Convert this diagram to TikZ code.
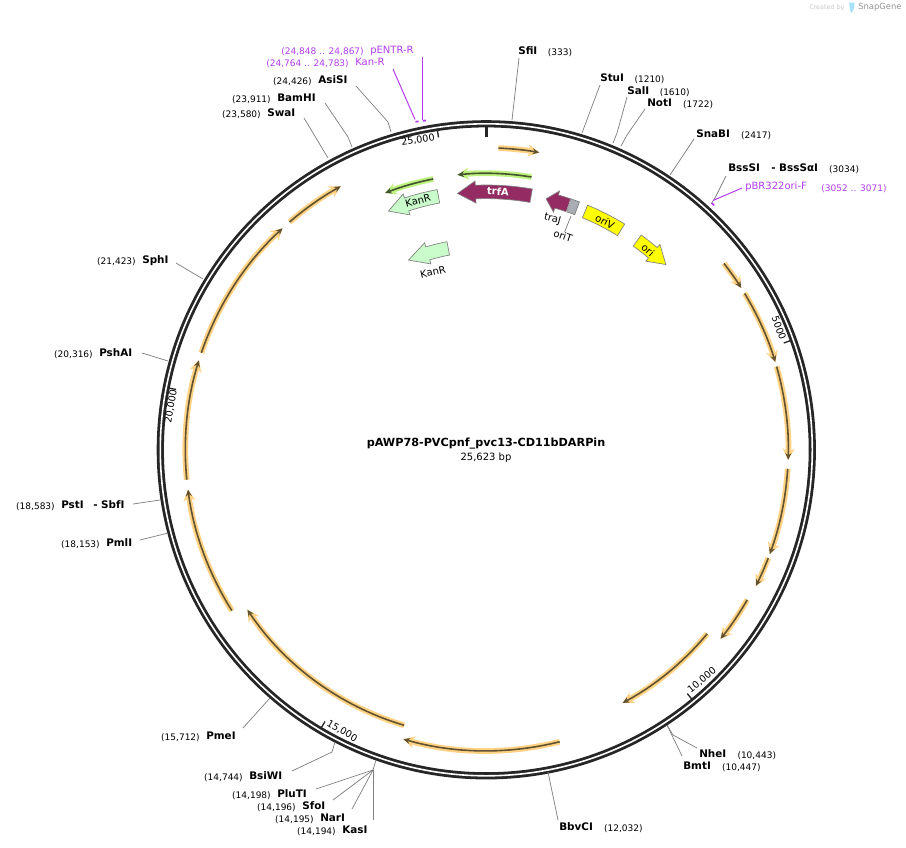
\documentclass[tikz,border=0pt]{standalone}
\usepackage{fontspec}
\setmainfont{DejaVu Sans}
\usetikzlibrary{arrows.meta, positioning}

\definecolor{ringcol}{HTML}{262626}
\definecolor{tanglow}{HTML}{FFD284}
\definecolor{tanline}{HTML}{62522F}
\definecolor{greenglow}{HTML}{BDF27F}
\definecolor{greenline}{HTML}{44522F}
\definecolor{primercol}{HTML}{B23CF0}
\definecolor{trfcol}{HTML}{952B63}
\definecolor{kancol}{HTML}{C9FBCB}
\definecolor{oricol}{HTML}{FFFF00}
\definecolor{greycol}{HTML}{A9ACB2}

\tikzset{
    sitename/.style = {font = \fontsize{7.8}{9}\selectfont\bfseries, inner sep = 0pt, anchor = west, text height = 5.8pt, text depth = 0pt},
    sitepos/.style = {font = \fontsize{6.75}{8}\selectfont, inner sep = 0pt, text height = 5.1pt, text depth = 0pt, yshift = -0.6pt},
    primername/.style = {font = \fontsize{7.5}{9}\selectfont, text = primercol, inner sep = 0pt, anchor = west, text height = 5.8pt, text depth = 0pt},
    primerpos/.style = {sitepos, text = primercol},
    primerline/.style = {draw = primercol, line width = 0.75pt},
    primermark/.style = {draw = primercol, line width = 1.3pt},
    siteline/.style = {draw = black!50, line width = 0.55pt},
    ticklabel/.style = {font = \fontsize{7.2}{9}\selectfont, inner sep = 0pt},
    featlabel/.style = {font = \fontsize{7.5}{9}\selectfont, inner sep = 0pt},
    genebox/.style = {draw = black!50, line width = 0.5pt},
    tanarc/.style = {->, >={Stealth[length = 5pt, width = 4.5pt]}, draw = tanline, line width = 1.2pt,
        preaction = {draw = tanglow, line width = 4.3pt, >={Stealth[length = 8.5pt, width = 9pt]}}},
    greenarc/.style = {->, >={Stealth[length = 5pt, width = 4.5pt]}, draw = greenline, line width = 1.2pt,
        preaction = {draw = greenglow, line width = 4.3pt, >={Stealth[length = 8.5pt, width = 9pt]}}}
}

% start angle, angle of head base, tip angle, radius, style
\newcommand{\genearrow}[5]{
    \draw[genebox, #5] ({#1}:{#4+6.8}) arc[start angle = #1, end angle = #2, radius = #4+6.8]
        -- ({#2}:{#4+11}) -- ({#3}:{#4}) -- ({#2}:{#4-11}) -- ({#2}:{#4-6.8})
        arc[start angle = #2, end angle = #1, radius = #4-6.8] -- cycle;
}

\begin{document}
\begin{tikzpicture}[x = 0.75pt, y = -0.75pt]

    \useasboundingbox (0,0) rectangle (906,847);

    % ring, genes and ticks use angles around the centre
    \begin{scope}[shift = {(486.3,449.8)}, y = 0.75pt]
        \draw[ringcol, line width = 2.1pt, double = white, double distance = 1.2pt] (0,0) circle [radius = 326];

        \draw[ringcol, line width = 2.6pt] (90:313) -- (90:324);
        \draw[ringcol, line width = 1pt] (98.7:316) -- (98.7:323);
        \draw[ringcol, line width = 1pt] (19.75:316) -- (19.75:323);
        \draw[ringcol, line width = 1pt] (-50.5:316) -- (-50.5:323);
        \draw[ringcol, line width = 1pt] (-120.7:316) -- (-120.7:323);
        \draw[ringcol, line width = 1pt] (169:316) -- (169:323);

        \draw[tanarc] (87.7:302) arc[start angle = 87.7, end angle = 79.9, radius = 302];
        \draw[tanarc] (38.1:302) arc[start angle = 38.1, end angle = 32.4, radius = 302];
        \draw[tanarc] (31.2:302) arc[start angle = 31.2, end angle = 16.9, radius = 302];
        \draw[tanarc] (16:302) arc[start angle = 16, end angle = -1.9, radius = 302];
        \draw[tanarc] (-3.6:302) arc[start angle = -3.6, end angle = -20.2, radius = 302];
        \draw[tanarc] (-21:302) arc[start angle = -21, end angle = -26.8, radius = 302];
        \draw[tanarc] (-29.9:301) arc[start angle = -29.9, end angle = -38.9, radius = 301];
        \draw[tanarc] (-39.8:287.5) arc[start angle = -39.8, end angle = -61.7, radius = 287.5];
        \draw[tanarc] (-75.9:301) arc[start angle = -75.9, end angle = -106, radius = 301];
        \draw[tanarc] (-106.6:287.5) arc[start angle = -106.6, end angle = -146.2, radius = 287.5];
        \draw[tanarc] (-147.7:301) arc[start angle = -147.7, end angle = -172.4, radius = 301];
        \draw[tanarc] (-174.3:301) arc[start angle = -174.3, end angle = -197.3, radius = 301];
        \draw[tanarc] (161.2:301) arc[start angle = 161.2, end angle = 132.6, radius = 301];
        \draw[tanarc] (130.8:301) arc[start angle = 130.8, end angle = 118.9, radius = 301];

        \draw[greenarc] (80.6:276.5) arc[start angle = 80.6, end angle = 96, radius = 276.5];
        \draw[greenarc] (101.1:276) arc[start angle = 101.1, end angle = 111.5, radius = 276];

        \genearrow{80}{92.4}{96.4}{258}{fill = trfcol}
        \genearrow{100.7}{108}{112.3}{258}{fill = kancol}
        \genearrow{100.7}{106.6}{112.3}{205}{fill = kancol}
        \genearrow{71.4}{74.2}{76.6}{258}{fill = trfcol}
        \genearrow{54.2}{49.8}{45.9}{258}{fill = oricol}

        \draw[genebox, fill = greycol] (71.4:264.8) arc[start angle = 71.4, end angle = 69.4, radius = 264.8]
            -- (69.4:251.2) arc[start angle = 69.4, end angle = 71.4, radius = 251.2] -- cycle;
        \draw[white, line width = 0.4pt, densely dotted] (71.4:264.8) -- (71.4:251.2);
        \draw[genebox, fill = oricol] (67.5:264.8) arc[start angle = 67.5, end angle = 58.5, radius = 264.8]
            -- (58.5:251.2) arc[start angle = 58.5, end angle = 67.5, radius = 251.2] -- cycle;
    \end{scope}

    \node[featlabel, text = white, font = \fontsize{7.5}{9}\selectfont\bfseries, rotate = -3] (trfA) at (498,191.5) {trfA};
    \node[featlabel, rotate = 15] (kanR) at (418,200.5) {KanR};
    \node[featlabel, rotate = 13] (kanRb) at (433,272) {KanR};
    \node[featlabel, rotate = -28] (oriV) at (605,221.5) {oriV};
    \node[featlabel, rotate = -42] (ori) at (648,250) {ori};
    \node[featlabel, rotate = -15] (traJ) at (552.5,219) {traJ};
    \node[featlabel, rotate = -18] (oriT) at (563,236) {oriT};

    \node[ticklabel, rotate = 8.7] (t25) at (418,140) {25,000};
    \node[ticklabel, rotate = -70] (t5) at (779,328) {5000};
    \node[ticklabel, rotate = 39.5] (t10) at (702,680) {10,000};
    \node[ticklabel, rotate = -30.7] (t15) at (342,731) {15,000};
    \node[ticklabel, rotate = 80] (t20) at (171,406.5) {20,000};

    \node[inner sep = 0pt, font = \fontsize{8.4}{10}\selectfont\bfseries] (title) at (486,444) {pAWP78-PVCpnf\_pvc13-CD11bDARPin};
    \node[inner sep = 0pt, font = \fontsize{7.5}{9}\selectfont] (size) [below = 2.2pt of title] {25,623 bp};

    \node[sitename] (sfi) at (518,51) {SfiI};
    \node[sitepos] (sfipos) [right = 7.5pt of sfi] {(333)};
    \node[sitename] (stu) at (600,78) {StuI};
    \node[sitepos] (stupos) [right = 7.5pt of stu] {(1210)};
    \node[sitename] (sal) at (627,91) {SalI};
    \node[sitepos] (salpos) [right = 7.5pt of sal] {(1610)};
    \node[sitename] (not) at (647,103) {NotI};
    \node[sitepos] (notpos) [right = 8pt of not] {(1722)};
    \node[sitename] (sna) at (696,134) {SnaBI};
    \node[sitepos] (snapos) [right = 8pt of sna] {(2417)};
    \node[sitename] (bss) at (728,168) {BssSI};
    \node[sitename] (bssa) at (771,168) {- BssSαI};
    \node[sitepos] (bsspos) [right = 8pt of bssa] {(3034)};
    \node[sitename] (nhe) at (699,754) {NheI};
    \node[sitepos] (nhepos) [right = 8pt of nhe] {(10,443)};
    \node[sitename] (bmt) at (683,766) {BmtI};
    \node[sitepos] (bmtpos) [right = 8pt of bmt] {(10,447)};
    \node[sitename] (bbv) at (559,827) {BbvCI};
    \node[sitepos] (bbvpos) [right = 8pt of bbv] {(12,032)};

    \node[sitename] (kas) at (342,830) {KasI};
    \node[sitepos] (kaspos) [left = 4.5pt of kas] {(14,194)};
    \node[sitename] (nar) at (320,818) {NarI};
    \node[sitepos] (narpos) [left = 4.5pt of nar] {(14,195)};
    \node[sitename] (sfo) at (302,806) {SfoI};
    \node[sitepos] (sfopos) [left = 4.5pt of sfo] {(14,196)};
    \node[sitename] (plu) at (277,794) {PluTI};
    \node[sitepos] (plupos) [left = 4.5pt of plu] {(14,198)};
    \node[sitename] (bsw) at (249,776) {BsiWI};
    \node[sitepos] (bswpos) [left = 4.5pt of bsw] {(14,744)};
    \node[sitename] (pme) at (206,736) {PmeI};
    \node[sitepos] (pmepos) [left = 4.5pt of pme] {(15,712)};
    \node[sitename] (pml) at (106,543) {PmlI};
    \node[sitepos] (pmlpos) [left = 4.5pt of pml] {(18,153)};
    \node[sitename] (pst) at (61,505) {PstI};
    \node[sitename] (sbf) at (93,505) {- SbfI};
    \node[sitepos] (pstpos) [left = 4.5pt of pst] {(18,583)};
    \node[sitename] (psh) at (99,353) {PshAI};
    \node[sitepos] (pshpos) [left = 4.5pt of psh] {(20,316)};
    \node[sitename] (sph) at (142,260) {SphI};
    \node[sitepos] (sphpos) [left = 4.5pt of sph] {(21,423)};
    \node[sitename] (swa) at (267,113) {SwaI};
    \node[sitepos] (swapos) [left = 4.5pt of swa] {(23,580)};
    \node[sitename] (bam) at (277,98) {BamHI};
    \node[sitepos] (bampos) [left = 4.5pt of bam] {(23,911)};
    \node[sitename] (asi) at (318,80) {AsiSI};
    \node[sitepos] (asipos) [left = 4.5pt of asi] {(24,426)};

    \node[primername] (kanp) at (355,62) {Kan-R};
    \node[primerpos] (kanppos) [left = 4.5pt of kanp] {(24,764 .. 24,783)};
    \node[primername] (pent) at (370,50) {pENTR-R};
    \node[primerpos] (pentpos) [left = 4.5pt of pent] {(24,848 .. 24,867)};
    \node[primername] (pbr) at (745,186) {pBR322ori-F};
    \node[primerpos] (pbrpos) at (854,187) {(3052 .. 3071)};

    % points on the ring and elbows
    \coordinate (rsfi) at (512,120);
    \coordinate (rstu) at (582,133);
    \coordinate (esal) at (617,133);
    \coordinate (rsal) at (613,143);
    \coordinate (enot) at (627,135);
    \coordinate (rnot) at (621,146);
    \coordinate (rsna) at (670,175);
    \coordinate (ebss) at (715,198);
    \coordinate (rbss) at (711,204);
    \coordinate (enhe) at (673,735);
    \coordinate (rnhe) at (667,725);
    \coordinate (rbbv) at (548,772);
    \coordinate (rpme) at (270,698);
    \coordinate (ebsw) at (332,752);
    \coordinate (rbsw) at (335,742);
    \coordinate (ekas) at (373,770);
    \coordinate (rkas) at (376,760);
    \coordinate (rpst) at (160,500);
    \coordinate (rpml) at (168,533);
    \coordinate (rpsh) at (168,361);
    \coordinate (rsph) at (203,279);
    \coordinate (rswa) at (328,158);
    \coordinate (ebam) at (348,137);
    \coordinate (rbam) at (352,147);
    \coordinate (easi) at (388,122);
    \coordinate (rasi) at (391,132);
    \coordinate (rori) at (571,216);

    \path[siteline]
        ([shift = {(1,7)}]sfi.west) edge (rsfi)
        ([shift = {(0,7)}]stu.west) edge (rstu)
        ([shift = {(34,3)}]sph.west) edge (rsph)
        ([shift = {(43,0)}]psh.west) edge (rpsh)
        ([shift = {(72,-1)}]pst.west) edge (rpst)
        ([shift = {(34,-3)}]pml.west) edge (rpml)
        ([shift = {(37,-8)}]pme.west) edge (rpme)
        ([shift = {(37,5)}]swa.west) edge (rswa)
        ([shift = {(-2,5)}]sna.west) edge (rsna)
        ([shift = {(-1,-7)}]bbv.west) edge (rbbv)
        ([shift = {(-1,-10)}]bmt.west) edge (rnhe)
        ([shift = {(39,-5)}]plu.west) edge (ekas)
        ([shift = {(31,-6)}]sfo.west) edge (ekas)
        ([shift = {(32,-9)}]nar.west) edge (ekas)
        ([shift = {(31,-10)}]kas.west) edge (ekas)
        (oriT) edge (rori);

    \draw[siteline] ([shift = {(0,6)}]sal.west) -- (esal) -- (rsal);
    \draw[siteline] ([shift = {(-2,6)}]not.west) -- (enot) -- (rnot);
    \draw[siteline] ([shift = {(-2,8)}]bss.west) -- (ebss) -- (rbss);
    \draw[siteline] ([shift = {(-2,-6)}]nhe.west) -- (enhe) -- (rnhe);
    \draw[siteline] ([shift = {(43,-5)}]bsw.west) -- (ebsw) -- (rbsw);
    \draw[siteline] (ekas) -- (rkas);
    \draw[siteline] ([shift = {(48,5)}]bam.west) -- (ebam) -- (rbam);
    \draw[siteline] ([shift = {(38,6)}]asi.west) -- (easi) -- (rasi);

    % primers
    \coordinate (mkan) at (415,119.5);
    \coordinate (ment) at (422,119.5);
    \coordinate (mpbr) at (713,200.5);
    \path[primerline]
        ([shift = {(38,7)}]kanp.west) edge (mkan)
        ([shift = {(52,7)}]pent.west) edge (ment)
        ([shift = {(-3,2)}]pbr.west) edge (mpbr);
    \draw[primermark] (415.5,121.8) -- (418.5,121.3);
    \draw[primermark] (423,120.9) -- (426,120.4);
    \draw[primermark] (712,203) -- (714,205.5);

    % logo
    \node[inner sep = 0pt, font = \fontsize{4.8}{6}\selectfont, text = black!22, anchor = west] (created) at (809,7.5) {Created by};
    \fill[cyan!35] (849,2.5) -- (854.5,2.5) .. controls (854.5,8) and (853,12) .. (851,13) .. controls (850,10) and (849.5,6) .. (849,2.5) -- cycle;
    \node[inner sep = 0pt, font = \fontsize{6.3}{8}\selectfont, text = black!42, anchor = west] (snap) at (858,7.5) {SnapGene};

\end{tikzpicture}
\end{document}
